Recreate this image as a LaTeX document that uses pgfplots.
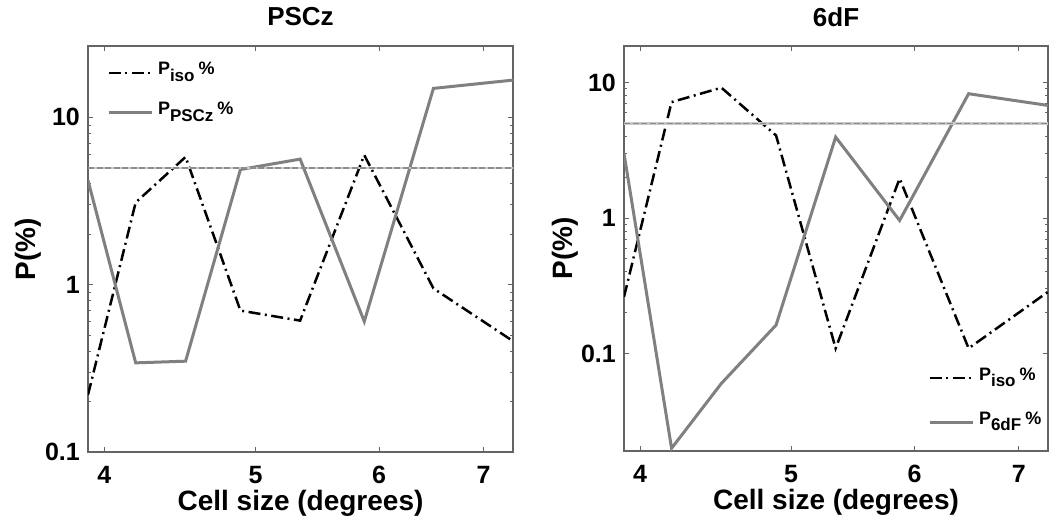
\documentclass[border=0pt]{standalone}
\usepackage{fontspec}
\setmainfont{Liberation Sans}
\usepackage{pgfplots}
\pgfplotsset{compat=1.18}
\definecolor{linegray}{RGB}{128,128,128}
\definecolor{framegray}{RGB}{100,100,100}
\definecolor{lightline}{RGB}{200,200,200}
\definecolor{dashgray}{RGB}{140,140,140}
\newcommand{\Psub}[1]{P\raisebox{-6.5pt}{\fontsize{17}{17}\selectfont #1}\hspace{4pt}\%}
\begin{document}
\begin{tikzpicture}
\useasboundingbox (0pt,0pt) rectangle (1062pt,525pt);
% Left panel: PSCz
\begin{axis}[
  scale only axis,
  xmode=log, ymode=log,
  xmin=3.906, xmax=7.31,
  xtick={4,5,6,7}, xticklabels={4,5,6,7},
  minor xtick={},
  ytick={0.1,1,10}, yticklabels={0.1,1,10},
  axis line style={framegray, line width=1.2pt},
  every tick/.style={framegray, line width=1pt},
  major tick length=5pt, minor tick length=3pt,
  tick align=inside,
  tick label style={font=\fontsize{25}{25}\selectfont\bfseries},
  xticklabel style={anchor=base, yshift=-31pt, inner sep=0pt},
  yticklabel style={anchor=east, xshift=-8pt, inner sep=0pt},
  title style={at={(axis description cs:0.5,1.0345)}, anchor=base, font=\fontsize{26}{26}\selectfont\bfseries, inner sep=0pt},
  xlabel style={at={(axis description cs:0.5,-0.1453)}, anchor=base, font=\fontsize{28}{28}\selectfont\bfseries, inner sep=0pt},
  ylabel style={at={(axis description cs:-0.1224,0.5)}, anchor=base, font=\fontsize{28}{28}\selectfont\bfseries, inner sep=0pt},
  xlabel={Cell size (degrees)},
  ylabel={P(\%)},
  legend style={draw=none, fill=none, inner sep=0pt, outer sep=0pt,
    font=\fontsize{18}{18}\selectfont\bfseries,
    nodes={inner sep=0pt, text height=13pt, text depth=9pt},
    column sep=5pt},
  legend cell align=left,
  legend image code/.code={\draw[#1] (0pt,0pt) -- (43pt,0pt);},
  at={(88pt,73pt)}, anchor=south west,
  width=425pt, height=406pt,
  ymin=0.1, ymax=26.7,
  title={PSCz},
  legend style={at={(axis description cs:0.0447,0.9606)}, anchor=north west, row sep=18pt},
]
\addplot[black, line width=2.5pt, dash pattern=on 12pt off 4.5pt on 2pt off 4.5pt] coordinates {
(3.906,0.22) (4.19,3.1) (4.51,5.8) (4.89,0.70) (5.34,0.61) (5.87,5.95) (6.50,0.95) (7.31,0.46)};
\addlegendentry{\Psub{iso}}
\addplot[linegray, line width=3pt] coordinates {
(3.906,4.2) (4.19,0.341) (4.51,0.349) (4.89,4.88) (5.34,5.63) (5.87,0.603) (6.50,14.9) (7.31,16.7)};
\addlegendentry{\Psub{PSCz}}
\addplot[lightline, line width=2.4pt, forget plot] coordinates {(3.906,5) (7.31,5)};
\addplot[dashgray, line width=1.8pt, dash pattern=on 6pt off 2.5pt, forget plot] coordinates {(3.906,5) (7.31,5)};
\end{axis}
% Right panel: 6dF
\begin{axis}[
  scale only axis,
  xmode=log, ymode=log,
  xmin=3.906, xmax=7.31,
  xtick={4,5,6,7}, xticklabels={4,5,6,7},
  minor xtick={},
  ytick={0.1,1,10}, yticklabels={0.1,1,10},
  axis line style={framegray, line width=1.2pt},
  every tick/.style={framegray, line width=1pt},
  major tick length=5pt, minor tick length=3pt,
  tick align=inside,
  tick label style={font=\fontsize{25}{25}\selectfont\bfseries},
  xticklabel style={anchor=base, yshift=-31pt, inner sep=0pt},
  yticklabel style={anchor=east, xshift=-8pt, inner sep=0pt},
  title style={at={(axis description cs:0.5,1.0345)}, anchor=base, font=\fontsize{26}{26}\selectfont\bfseries, inner sep=0pt},
  xlabel style={at={(axis description cs:0.5,-0.1453)}, anchor=base, font=\fontsize{28}{28}\selectfont\bfseries, inner sep=0pt},
  ylabel style={at={(axis description cs:-0.1224,0.5)}, anchor=base, font=\fontsize{28}{28}\selectfont\bfseries, inner sep=0pt},
  xlabel={Cell size (degrees)},
  ylabel={P(\%)},
  legend style={draw=none, fill=none, inner sep=0pt, outer sep=0pt,
    font=\fontsize{18}{18}\selectfont\bfseries,
    nodes={inner sep=0pt, text height=13pt, text depth=9pt},
    column sep=5pt},
  legend cell align=left,
  legend image code/.code={\draw[#1] (0pt,0pt) -- (43pt,0pt);},
  at={(624pt,74pt)}, anchor=south west,
  width=424pt, height=405pt,
  ymin=0.019, ymax=18.7,
  title={6dF},
  legend style={at={(axis description cs:0.717,0.2074)}, anchor=north west, row sep=22pt},
]
\addplot[black, line width=2.5pt, dash pattern=on 12pt off 4.5pt on 2pt off 4.5pt] coordinates {
(3.906,0.262) (4.19,7.2) (4.51,9.2) (4.89,4.08) (5.34,0.109) (5.87,1.96) (6.50,0.109) (7.31,0.285)};
\addlegendentry{\Psub{iso}}
\addplot[linegray, line width=3pt] coordinates {
(3.906,3.0) (4.19,0.0199) (4.51,0.060) (4.89,0.162) (5.34,3.97) (5.87,0.96) (6.50,8.3) (7.31,6.8)};
\addlegendentry{\Psub{6dF}}
\addplot[lightline, line width=2.4pt, forget plot] coordinates {(3.906,5) (7.31,5)};
\addplot[dashgray, line width=1.8pt, dash pattern=on 6pt off 2.5pt, forget plot] coordinates {(3.906,5) (7.31,5)};
\end{axis}
\end{tikzpicture}
\end{document}
